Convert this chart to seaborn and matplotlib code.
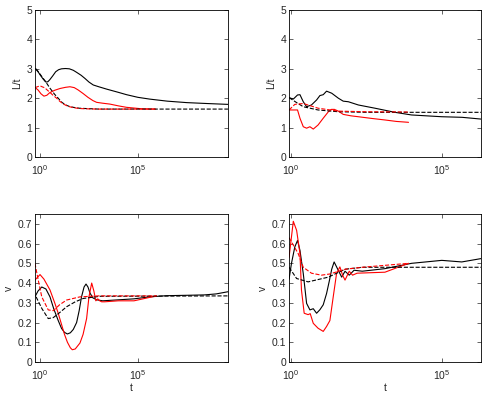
import numpy as np
import pandas as pd
import matplotlib
matplotlib.use('Agg')
import matplotlib.pyplot as plt
import seaborn as sns
from matplotlib.ticker import FixedLocator, NullLocator, LogFormatterMathtext

# ---- data: x values are log10(t) ----
# top-left panel, L/t
tl_k_x = [-0.26, -0.1, 0.0, 0.15, 0.3, 0.4, 0.5, 0.65, 0.8, 0.95, 1.1, 1.3, 1.5, 1.7, 1.87, 2.1, 2.3, 2.5, 2.72, 3.0, 3.4, 4.0, 4.42, 5.0, 5.6, 6.5, 7.5, 8.5, 9.6]
tl_k_y = [3.02, 2.9, 2.8, 2.66, 2.55, 2.56, 2.63, 2.76, 2.9, 2.97, 3.0, 3.01, 3.0, 2.95, 2.88, 2.78, 2.67, 2.55, 2.45, 2.39, 2.31, 2.2, 2.12, 2.03, 1.97, 1.9, 1.85, 1.82, 1.79]
tl_r_x = [-0.26, -0.1, 0.05, 0.2, 0.35, 0.5, 0.75, 1.02, 1.3, 1.53, 1.75, 1.95, 2.2, 2.45, 2.7, 2.89, 3.2, 3.57, 4.0, 4.42, 5.2, 5.9]
tl_r_y = [2.37, 2.28, 2.15, 2.07, 2.1, 2.19, 2.27, 2.33, 2.37, 2.39, 2.36, 2.28, 2.16, 2.03, 1.92, 1.86, 1.83, 1.80, 1.74, 1.69, 1.64, 1.63]
tl_kd_x = [-0.2, 0.0, 0.3, 0.51, 0.75, 0.93, 1.1, 1.28, 1.5, 1.7, 2.0, 2.3, 3.0, 9.6]
tl_kd_y = [3.0, 2.82, 2.55, 2.34, 2.13, 2.0, 1.87, 1.78, 1.72, 1.69, 1.66, 1.65, 1.63, 1.63]
tl_rd_x = [-0.26, 0.0, 0.25, 0.5, 0.7, 0.85, 1.0, 1.2, 1.45, 1.7, 2.0, 2.3, 3.0, 5.9]
tl_rd_y = [2.36, 2.42, 2.35, 2.2, 2.08, 2.0, 1.9, 1.8, 1.72, 1.68, 1.65, 1.64, 1.63, 1.63]

# top-right panel, L/t
tr_k_x = [-0.05, 0.09, 0.23, 0.31, 0.42, 0.53, 0.69, 0.86, 0.97, 1.08, 1.19, 1.36, 1.58, 1.74, 1.91, 2.24, 2.79, 3.45, 4.0, 5.0, 5.67, 6.3]
tr_k_y = [2.02, 1.97, 2.11, 2.12, 1.88, 1.71, 1.77, 1.94, 2.09, 2.12, 2.24, 2.17, 2.0, 1.9, 1.88, 1.77, 1.66, 1.52, 1.43, 1.37, 1.35, 1.29]
tr_r_x = [-0.05, 0.23, 0.31, 0.42, 0.53, 0.64, 0.75, 0.91, 1.08, 1.25, 1.35, 1.45, 1.58, 1.74, 2.0, 2.24, 2.7, 3.12, 3.5, 3.9]
tr_r_y = [1.6, 1.6, 1.32, 1.03, 0.98, 1.03, 0.95, 1.09, 1.32, 1.54, 1.62, 1.62, 1.56, 1.45, 1.4, 1.37, 1.31, 1.26, 1.21, 1.18]
tr_kd_x = [-0.05, 0.23, 0.42, 0.91, 1.58, 2.5, 6.3]
tr_kd_y = [2.02, 1.83, 1.71, 1.6, 1.54, 1.52, 1.52]
tr_rd_x = [-0.05, 0.14, 0.42, 0.91, 1.58, 2.5, 3.9]
tr_rd_y = [1.6, 1.79, 1.82, 1.66, 1.56, 1.54, 1.53]

# bottom-left panel, v
bl_k_x = [-0.26, -0.1, 0.09, 0.3, 0.51, 0.7, 0.93, 1.1, 1.25, 1.4, 1.55, 1.7, 1.87, 2.0, 2.12, 2.25, 2.35, 2.45, 2.55, 2.7, 2.9, 3.2, 4.0, 4.8, 5.6, 6.46, 7.5, 8.4, 9.0, 9.6]
bl_k_y = [0.33, 0.36, 0.38, 0.37, 0.33, 0.27, 0.21, 0.17, 0.15, 0.142, 0.148, 0.165, 0.2, 0.26, 0.33, 0.38, 0.395, 0.38, 0.35, 0.325, 0.315, 0.31, 0.315, 0.32, 0.33, 0.336, 0.338, 0.34, 0.345, 0.356]
bl_r_x = [-0.26, 0.0, 0.2, 0.51, 0.75, 0.93, 1.1, 1.25, 1.4, 1.55, 1.65, 1.8, 2.04, 2.2, 2.38, 2.5, 2.64, 2.75, 2.85, 2.95, 3.05, 3.15, 3.3, 4.0, 4.8, 5.95]
bl_r_y = [0.415, 0.443, 0.42, 0.365, 0.3, 0.247, 0.19, 0.14, 0.1, 0.072, 0.062, 0.066, 0.096, 0.14, 0.22, 0.33, 0.40, 0.36, 0.31, 0.32, 0.31, 0.305, 0.305, 0.31, 0.31, 0.335]
bl_kd_x = [-0.2, 0.1, 0.42, 0.68, 1.0, 1.36, 1.8, 2.21, 3.06, 9.6]
bl_kd_y = [0.33, 0.27, 0.22, 0.225, 0.25, 0.28, 0.305, 0.322, 0.333, 0.335]
bl_rd_x = [-0.26, -0.1, 0.09, 0.42, 0.68, 1.0, 1.36, 2.04, 3.0, 5.95]
bl_rd_y = [0.5, 0.42, 0.33, 0.264, 0.26, 0.29, 0.314, 0.33, 0.335, 0.335]

# bottom-right panel, v
br_k_x = [-0.05, 0.03, 0.14, 0.23, 0.31, 0.42, 0.53, 0.64, 0.75, 0.86, 0.97, 1.08, 1.19, 1.28, 1.36, 1.44, 1.55, 1.69, 1.8, 1.94, 2.1, 2.37, 3.12, 4.0, 5.0, 5.66, 6.3]
br_k_y = [0.42, 0.5, 0.583, 0.616, 0.566, 0.448, 0.297, 0.264, 0.27, 0.247, 0.265, 0.29, 0.347, 0.41, 0.47, 0.507, 0.473, 0.43, 0.46, 0.44, 0.465, 0.46, 0.473, 0.50, 0.515, 0.507, 0.524]
br_r_x = [-0.05, 0.09, 0.2, 0.31, 0.36, 0.45, 0.58, 0.65, 0.75, 0.91, 1.08, 1.19, 1.3, 1.41, 1.52, 1.63, 1.72, 1.8, 1.94, 2.05, 2.2, 3.12, 3.9]
br_r_y = [0.53, 0.713, 0.667, 0.55, 0.365, 0.247, 0.24, 0.245, 0.196, 0.171, 0.155, 0.18, 0.21, 0.33, 0.448, 0.482, 0.44, 0.415, 0.46, 0.44, 0.45, 0.455, 0.50]
br_kd_x = [-0.05, 0.2, 0.58, 1.25, 1.8, 2.37, 6.3]
br_kd_y = [0.48, 0.423, 0.406, 0.43, 0.47, 0.48, 0.48]
br_rd_x = [-0.05, 0.25, 0.42, 0.69, 1.02, 1.3, 1.8, 2.37, 3.9]
br_rd_y = [0.63, 0.55, 0.48, 0.45, 0.44, 0.446, 0.47, 0.48, 0.50]

v_ticks = [0, 0.1, 0.2, 0.3, 0.4, 0.5, 0.6, 0.7]
lt_ticks = [0, 1, 2, 3, 4, 5]

panels = [
    # (axes rect, xlim (log10), ylim, yticks, ylabel, xlabel, series)
    ([0.072, 0.6005, 0.398, 0.374], (-0.26, 9.6), (0, 5), lt_ticks, 'L/t', None,
     [(tl_k_x, tl_k_y, 'k', '-'), (tl_r_x, tl_r_y, 'r', '-'),
      (tl_kd_x, tl_kd_y, 'k', '--'), (tl_rd_x, tl_rd_y, 'r', '--')]),
    ([0.596, 0.6005, 0.396, 0.374], (-0.05, 6.3), (0, 5), lt_ticks, 'L/t', None,
     [(tr_k_x, tr_k_y, 'k', '-'), (tr_r_x, tr_r_y, 'r', '-'),
      (tr_kd_x, tr_kd_y, 'k', '--'), (tr_rd_x, tr_rd_y, 'r', '--')]),
    ([0.072, 0.0789, 0.398, 0.3766], (-0.26, 9.6), (0, 0.75), v_ticks, 'v', 't',
     [(bl_k_x, bl_k_y, 'k', '-'), (bl_r_x, bl_r_y, 'r', '-'),
      (bl_kd_x, bl_kd_y, 'k', '--'), (bl_rd_x, bl_rd_y, 'r', '--')]),
    ([0.596, 0.0789, 0.396, 0.3766], (-0.05, 6.3), (0, 0.75), v_ticks, 'v', 't',
     [(br_k_x, br_k_y, 'k', '-'), (br_r_x, br_r_y, 'r', '-'),
      (br_kd_x, br_kd_y, 'k', '--'), (br_rd_x, br_rd_y, 'r', '--')]),
]

sns.set_style('ticks')
plt.rcParams['font.family'] = ['Liberation Sans', 'DejaVu Sans']
plt.rcParams['mathtext.fontset'] = 'custom'
plt.rcParams['mathtext.rm'] = 'Liberation Sans'
plt.rcParams['mathtext.it'] = 'Liberation Sans'

fig = plt.figure(figsize=(4.85, 3.93), dpi=100)

for rect, xl, yl, yt, ylab, xlab, series in panels:
    ax = fig.add_axes(rect)
    for xs, ys, c, ls in series:
        df = pd.DataFrame({'t': 10.0 ** np.array(xs), 'val': ys})
        sns.lineplot(data=df, x='t', y='val', ax=ax, color=c, linestyle=ls,
                     linewidth=0.8, sort=False, estimator=None,
                     dashes=False if ls == '-' else (7, 5))
    ax.set_xscale('log')
    ax.set_xlim(10 ** xl[0], 10 ** xl[1])
    ax.set_ylim(*yl)
    ax.xaxis.set_major_locator(FixedLocator([1e0, 1e5]))
    ax.xaxis.set_major_formatter(LogFormatterMathtext())
    ax.xaxis.set_minor_locator(NullLocator())
    ax.set_yticks(yt)
    ax.set_yticklabels([f'{v:g}' for v in yt])
    ax.tick_params(direction='in', length=3, width=0.5, labelsize=7.5,
                   top=True, right=True, pad=2)
    ax.tick_params(axis='x', pad=4.5)
    for s in ax.spines.values():
        s.set_linewidth(0.6)
        s.set_color('black')
    ax.set_ylabel(ylab, fontsize=7.5, labelpad=3)
    ax.set_xlabel(xlab if xlab else '', fontsize=7.5, labelpad=1)

plt.savefig('out.png', dpi=100)
